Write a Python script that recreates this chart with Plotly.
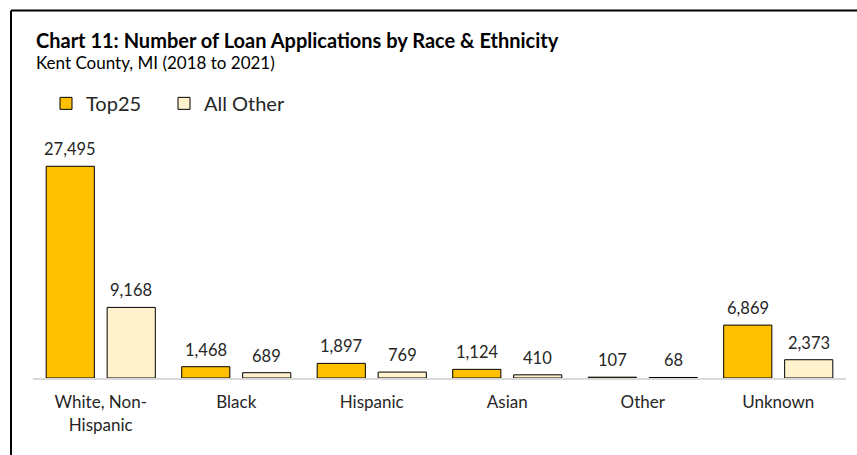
import plotly.graph_objects as go

categories = ["White, Non-<br>Hispanic", "Black", "Hispanic", "Asian", "Other", "Unknown"]
top25 = [27495, 1468, 1897, 1124, 107, 6869]
all_other = [9168, 689, 769, 410, 68, 2373]

FONT = "Lato"
L, R, B = 33, 11, 77
H, W = 455, 857
plot_h = 231.3
T = H - B - plot_h

fig = go.Figure()
fig.add_bar(x=categories, y=top25, name="Top25", legend="legend",
            marker=dict(color="#FFC000", line=dict(color="black", width=1)))
fig.add_bar(x=categories, y=all_other, name="All Other", legend="legend2",
            marker=dict(color="#FFF2CC", line=dict(color="black", width=1)))

pw = W - L - R
def px(x):
    return (x - L) / pw
def py(y):
    return (H - B - y) / plot_h

annotations = [
    dict(text="<b>Chart 11: Number of Loan Applications by Race & Ethnicity</b>",
         xref="paper", yref="paper", x=px(34), y=py(40), xanchor="left", yanchor="middle",
         showarrow=False, font=dict(size=20, color="black")),
    dict(text="Kent County, MI (2018 to 2021)",
         xref="paper", yref="paper", x=px(34), y=py(62), xanchor="left", yanchor="middle",
         showarrow=False, font=dict(size=17, color="black")),
]
for vals, shift in ((top25, -30.5), (all_other, 30.5)):
    for c, v in zip(categories, vals):
        annotations.append(dict(text=f"{v:,}", x=c, y=v, xref="x", yref="y",
                                xshift=shift, yshift=17, showarrow=False,
                                xanchor="center", yanchor="middle",
                                font=dict(size=16.5, color="#262626")))

leg = dict(orientation="h", xanchor="left", y=py(103), yanchor="middle",
           font=dict(size=20, color="#262626"), bgcolor="rgba(0,0,0,0)")

fig.update_layout(
    width=W, height=H,
    margin=dict(l=L, r=R, t=T, b=B, pad=0),
    paper_bgcolor="white", plot_bgcolor="white",
    font=dict(family=FONT, color="#262626"),
    barmode="group", bargap=0.10, bargroupgap=0.21,
    showlegend=True,
    legend=dict(leg, x=px(46)),
    legend2=dict(leg, x=px(164)),
    xaxis=dict(showline=True, linecolor="#D9D9D9", linewidth=2, ticks="",
               tickfont=dict(size=17, color="#262626"), showgrid=False,
               ticklabelstandoff=8),
    yaxis=dict(range=[0, 30000], visible=False, showgrid=False, zeroline=False),
    annotations=annotations,
    shapes=[
        dict(type="line", xref="paper", yref="paper", x0=px(11), x1=px(11), y0=py(10), y1=py(460),
             line=dict(color="black", width=2)),
        dict(type="line", xref="paper", yref="paper", x0=px(11), x1=px(860), y0=py(10), y1=py(10),
             line=dict(color="black", width=2)),
    ],
)

fig.write_html("out.html")
